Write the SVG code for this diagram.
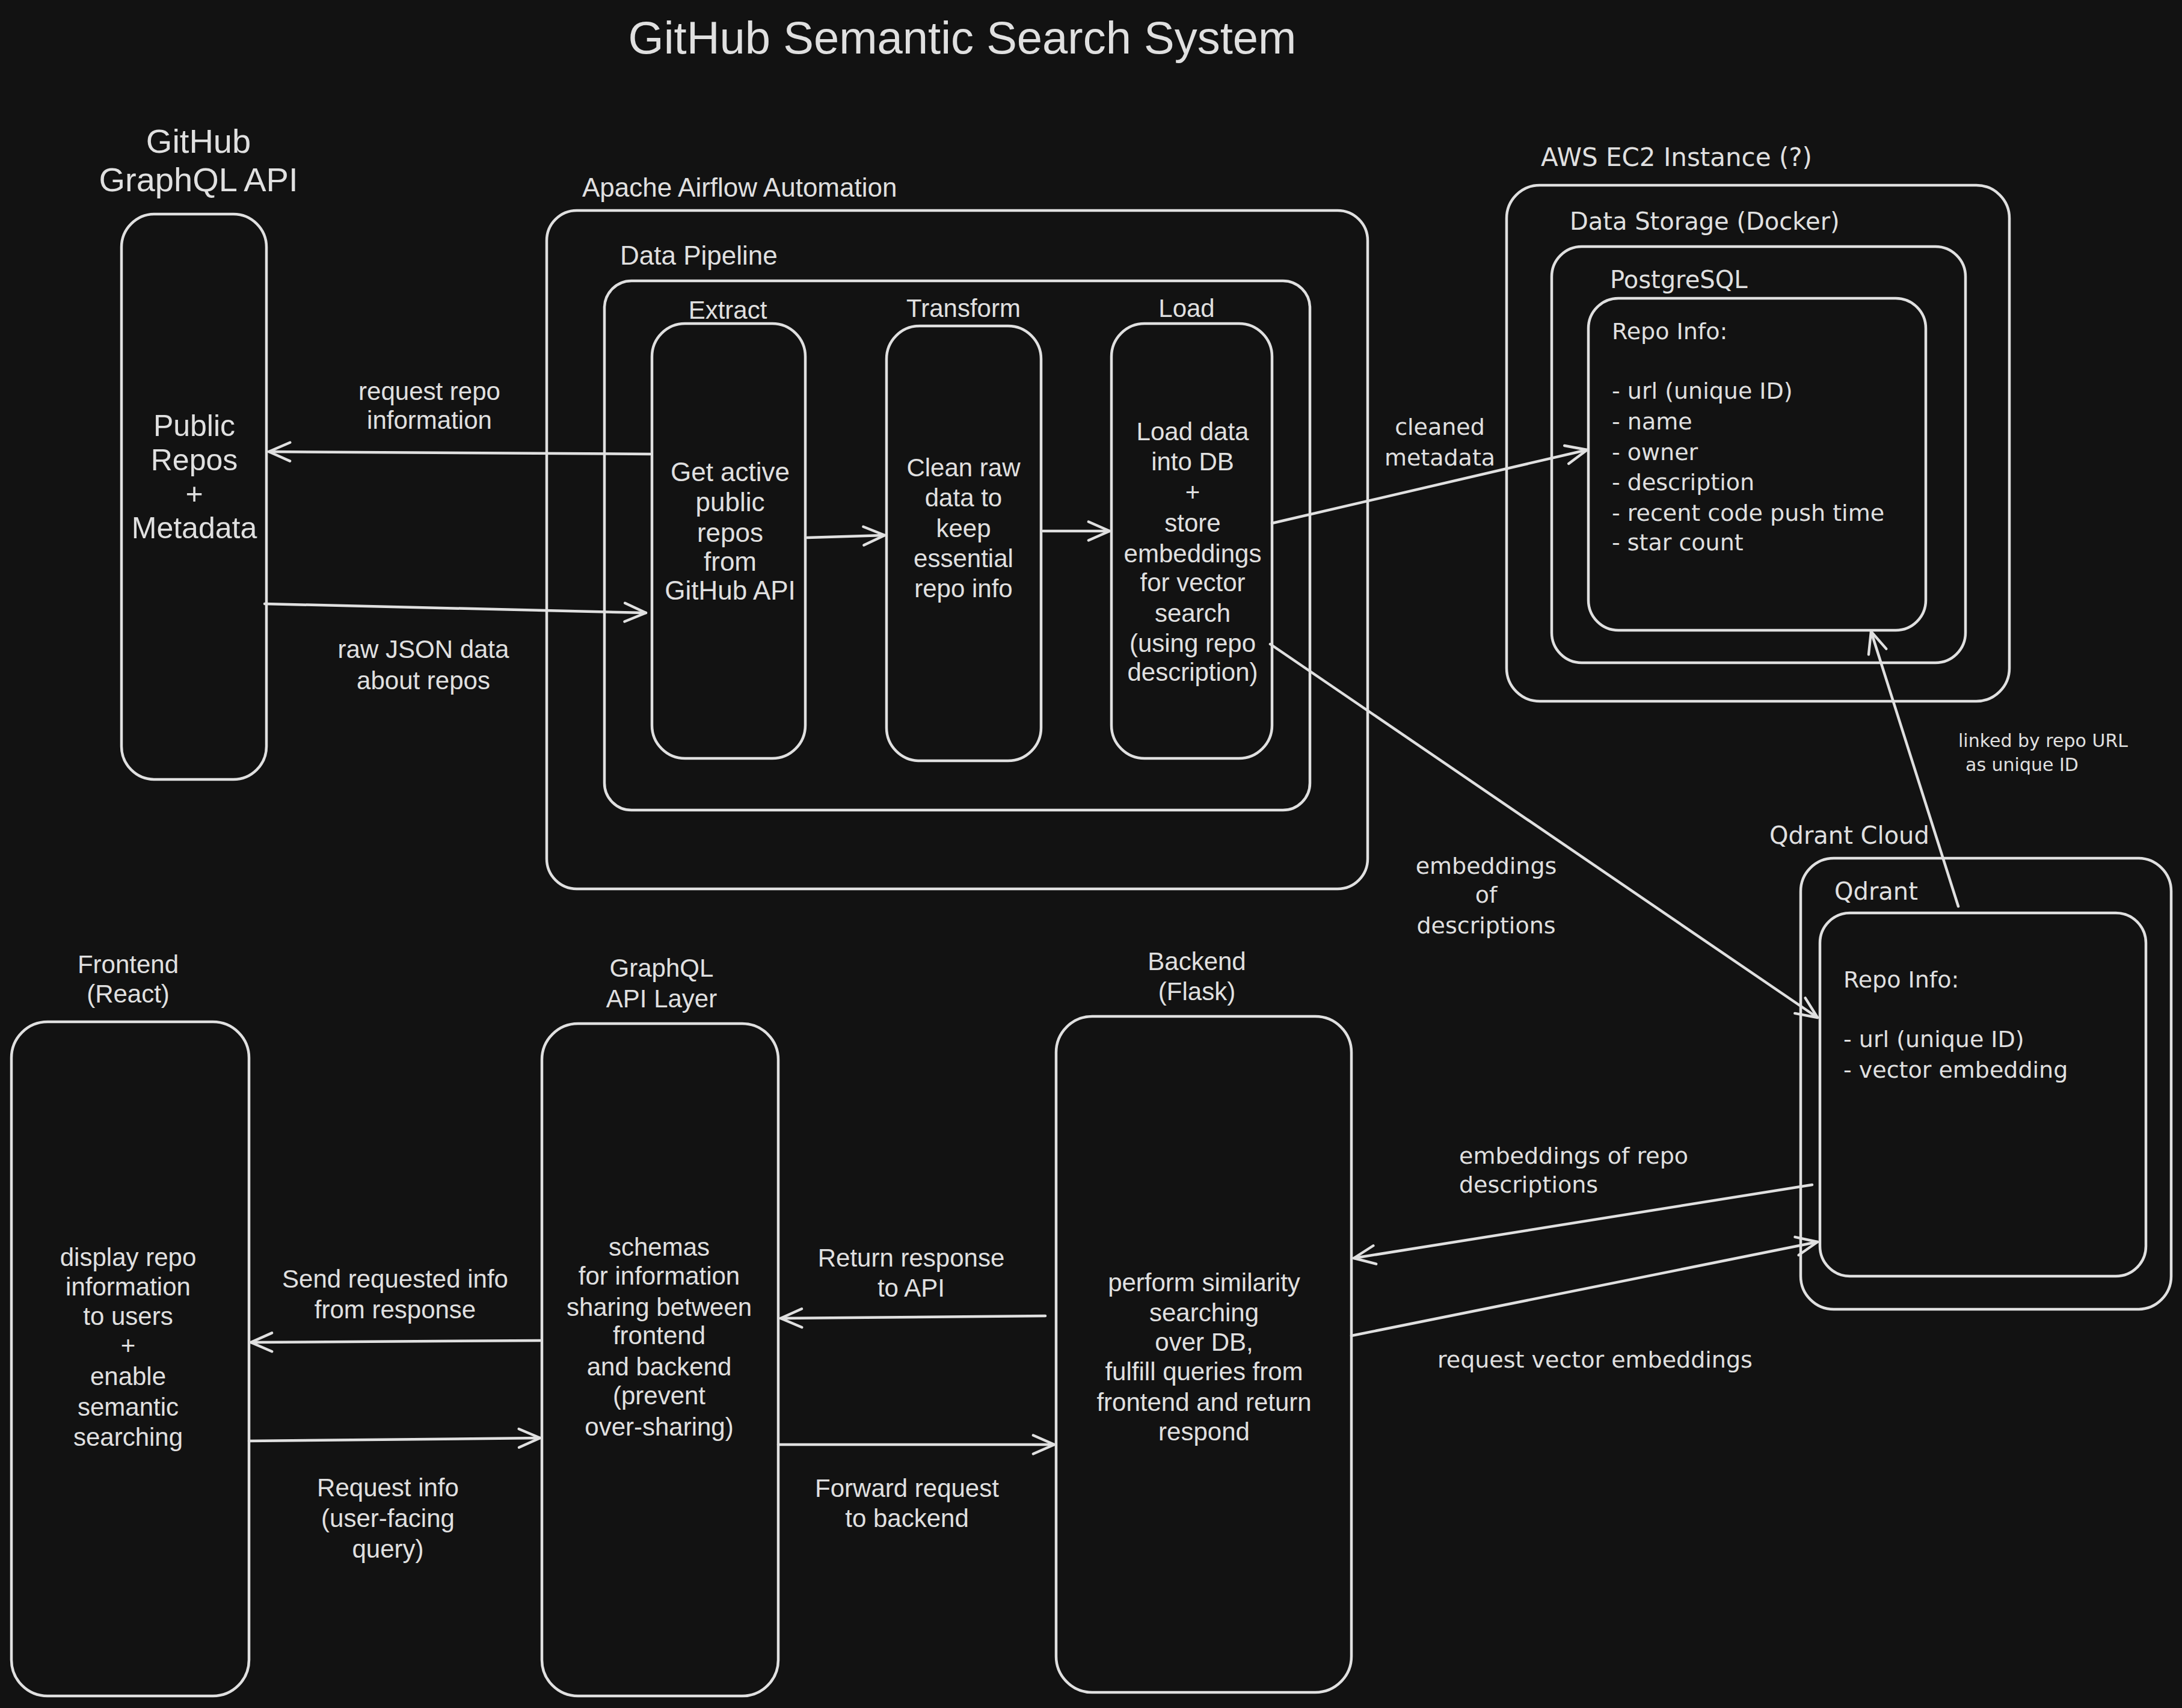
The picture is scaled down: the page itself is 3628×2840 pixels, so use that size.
<svg xmlns="http://www.w3.org/2000/svg" width="3628" height="2840" viewBox="0 0 3628 2840">
<defs>
<marker id="arr" viewBox="0 0 20 20" refX="18" refY="10" markerWidth="44" markerHeight="44" markerUnits="userSpaceOnUse" orient="auto">
<path d="M2,3 L18,10 L2,17" fill="none" stroke="#e0e0e0" stroke-width="2" stroke-linecap="round" stroke-linejoin="round"/>
</marker>
<style>
.box{fill:none;stroke:#e0e0e0;stroke-width:4.5}
.c{stroke:#e0e0e0;stroke-width:4.5;fill:none;marker-end:url(#arr);stroke-linecap:round}
.h{font-family:"Liberation Sans",Arial,sans-serif;fill:#e0e0e0;text-anchor:middle;dominant-baseline:central;font-size:42px}
.hs{font-family:"Liberation Sans",Arial,sans-serif;fill:#e0e0e0;dominant-baseline:central;font-size:44px}
.m{font-family:"DejaVu Sans",sans-serif;fill:#e0e0e0;dominant-baseline:central;font-size:38px}
.ml{font-family:"DejaVu Sans",sans-serif;fill:#e0e0e0;dominant-baseline:central;font-size:40px}
.mc{font-family:"DejaVu Sans",sans-serif;fill:#e0e0e0;dominant-baseline:central;font-size:38px;text-anchor:middle}
</style>
</defs>
<rect x="0" y="0" width="3628" height="2840" fill="#121212"/>

<g id="title"><text class="h" x="1600" y="62" style="font-size:76px">GitHub Semantic Search System</text></g>

<g id="github-api">
<text class="h" x="330" y="234" style="font-size:56px">GitHub</text>
<text class="h" x="330" y="298" style="font-size:56px">GraphQL API</text>
<rect class="box" x="202" y="356" width="241" height="940" rx="55"/>
<text class="h" style="font-size:50px"><tspan x="323" y="708">Public</tspan><tspan x="323" y="765">Repos</tspan><tspan x="323" y="821">+</tspan><tspan x="323" y="878">Metadata</tspan></text>
</g>

<g id="airflow">
<text class="hs" x="968" y="311">Apache Airflow Automation</text>
<rect class="box" x="909" y="350" width="1365" height="1128" rx="50"/>
</g>
<g id="data-pipeline">
<text class="hs" x="1031" y="424">Data Pipeline</text>
<rect class="box" x="1005" y="467" width="1173" height="880" rx="45"/>
</g>
<g id="extract">
<text class="h" x="1210" y="515">Extract</text>
<rect class="box" x="1084" y="538" width="255" height="723" rx="55"/>
<text class="h" style="font-size:44px"><tspan x="1214" y="784">Get active</tspan><tspan x="1214" y="834">public</tspan><tspan x="1214" y="885">repos</tspan><tspan x="1214" y="933">from</tspan><tspan x="1214" y="981">GitHub API</tspan></text>
</g>
<g id="transform">
<text class="h" x="1602" y="512">Transform</text>
<rect class="box" x="1474" y="542" width="257" height="723" rx="55"/>
<text class="h"><tspan x="1602" y="777">Clean raw</tspan><tspan x="1602" y="827">data to</tspan><tspan x="1602" y="878">keep</tspan><tspan x="1602" y="928">essential</tspan><tspan x="1602" y="978">repo info</tspan></text>
</g>
<g id="load">
<text class="h" x="1973" y="512">Load</text>
<rect class="box" x="1848" y="538" width="267" height="723" rx="55"/>
<text class="h"><tspan x="1983" y="717">Load data</tspan><tspan x="1983" y="767">into DB</tspan><tspan x="1983" y="818">+</tspan><tspan x="1983" y="869">store</tspan><tspan x="1983" y="920">embeddings</tspan><tspan x="1983" y="968">for vector</tspan><tspan x="1983" y="1019">search</tspan><tspan x="1983" y="1069">(using repo</tspan><tspan x="1983" y="1117">description)</tspan></text>
</g>

<g id="aws-ec2">
<text class="ml" x="2562" y="261" style="font-size:42px">AWS EC2 Instance (?)</text>
<rect class="box" x="2505" y="308" width="836" height="858" rx="55"/>
</g>
<g id="data-storage">
<text class="ml" x="2610" y="368">Data Storage (Docker)</text>
<rect class="box" x="2580" y="410" width="688" height="692" rx="50"/>
</g>
<g id="postgresql">
<text class="ml" x="2677" y="465">PostgreSQL</text>
<rect class="box" x="2641" y="496" width="561" height="552" rx="50"/>
<text class="m"><tspan x="2680" y="551">Repo Info:</tspan><tspan x="2680" y="650">- url (unique ID)</tspan><tspan x="2680" y="701">- name</tspan><tspan x="2680" y="752">- owner</tspan><tspan x="2680" y="802">- description</tspan><tspan x="2680" y="853">- recent code push time</tspan><tspan x="2680" y="902">- star count</tspan></text>
</g>

<g id="qdrant-cloud">
<text class="ml" x="2942" y="1389">Qdrant Cloud</text>
<rect class="box" x="2994" y="1427" width="616" height="750" rx="55"/>
</g>
<g id="qdrant">
<text class="ml" x="3050" y="1482">Qdrant</text>
<rect class="box" x="3026" y="1518" width="542" height="604" rx="50"/>
<text class="m"><tspan x="3065" y="1629">Repo Info:</tspan><tspan x="3065" y="1728">- url (unique ID)</tspan><tspan x="3065" y="1779">- vector embedding</tspan></text>
</g>

<g id="frontend">
<text class="h" x="213" y="1603">Frontend</text>
<text class="h" x="213" y="1652">(React)</text>
<rect class="box" x="19" y="1699" width="395" height="1121" rx="60"/>
<text class="h"><tspan x="213" y="2090">display repo</tspan><tspan x="213" y="2139">information</tspan><tspan x="213" y="2188">to users</tspan><tspan x="213" y="2237">+</tspan><tspan x="213" y="2288">enable</tspan><tspan x="213" y="2339">semantic</tspan><tspan x="213" y="2389">searching</tspan></text>
</g>
<g id="graphql-layer">
<text class="h" x="1100" y="1609">GraphQL</text>
<text class="h" x="1100" y="1660">API Layer</text>
<rect class="box" x="901" y="1702" width="393" height="1118" rx="60"/>
<text class="h"><tspan x="1096" y="2073">schemas</tspan><tspan x="1096" y="2121">for information</tspan><tspan x="1096" y="2173">sharing between</tspan><tspan x="1096" y="2220">frontend</tspan><tspan x="1096" y="2272">and backend</tspan><tspan x="1096" y="2320">(prevent</tspan><tspan x="1096" y="2372">over-sharing)</tspan></text>
</g>
<g id="backend">
<text class="h" x="1990" y="1598">Backend</text>
<text class="h" x="1990" y="1648">(Flask)</text>
<rect class="box" x="1756" y="1690" width="491" height="1124" rx="60"/>
<text class="h"><tspan x="2002" y="2132">perform similarity</tspan><tspan x="2002" y="2182">searching</tspan><tspan x="2002" y="2231">over DB,</tspan><tspan x="2002" y="2280">fulfill queries from</tspan><tspan x="2002" y="2331">frontend and return</tspan><tspan x="2002" y="2380">respond</tspan></text>
</g>

<g id="connectors">
<line class="c" x1="1081" y1="755" x2="447" y2="751"/>
<text class="h" x="714" y="650">request repo</text><text class="h" x="714" y="698">information</text>
<line class="c" x1="440" y1="1004" x2="1074" y2="1019"/>
<text class="h" x="704" y="1079">raw JSON data</text><text class="h" x="704" y="1131">about repos</text>
<line class="c" x1="1342" y1="894" x2="1471" y2="890"/>
<line class="c" x1="1734" y1="883" x2="1845" y2="883"/>
<line class="c" x1="2115" y1="870" x2="2639" y2="748"/>
<text class="mc" x="2394" y="710">cleaned</text><text class="mc" x="2394" y="761">metadata</text>
<line class="c" x1="2112" y1="1071" x2="3022" y2="1692"/>
<text class="mc" x="2471" y="1440">embeddings</text><text class="mc" x="2471" y="1488">of</text><text class="mc" x="2471" y="1539">descriptions</text>
<line class="c" x1="3256" y1="1507" x2="3111" y2="1050"/>
<text class="m" x="3256" y="1231" style="font-size:30px">linked by repo URL</text><text class="m" x="3268" y="1271" style="font-size:30px">as unique ID</text>
<line class="c" x1="3013" y1="1970" x2="2251" y2="2092"/>
<text class="m" x="2426" y="1922">embeddings of repo</text><text class="m" x="2426" y="1970">descriptions</text>
<line class="c" x1="2247" y1="2221" x2="3022" y2="2065"/>
<text class="m" x="2390" y="2261">request vector embeddings</text>
<line class="c" x1="898" y1="2229" x2="417" y2="2232"/>
<text class="h" x="657" y="2126">Send requested info</text><text class="h" x="657" y="2177">from response</text>
<line class="c" x1="414" y1="2396" x2="898" y2="2391"/>
<text class="h" x="645" y="2473">Request info</text><text class="h" x="645" y="2524">(user-facing</text><text class="h" x="645" y="2575">query)</text>
<line class="c" x1="1738" y1="2188" x2="1298" y2="2192"/>
<text class="h" x="1515" y="2091">Return response</text><text class="h" x="1515" y="2141">to API</text>
<line class="c" x1="1294" y1="2402" x2="1753" y2="2402"/>
<text class="h" x="1508" y="2474">Forward request</text><text class="h" x="1508" y="2524">to backend</text>
</g>
</svg>
